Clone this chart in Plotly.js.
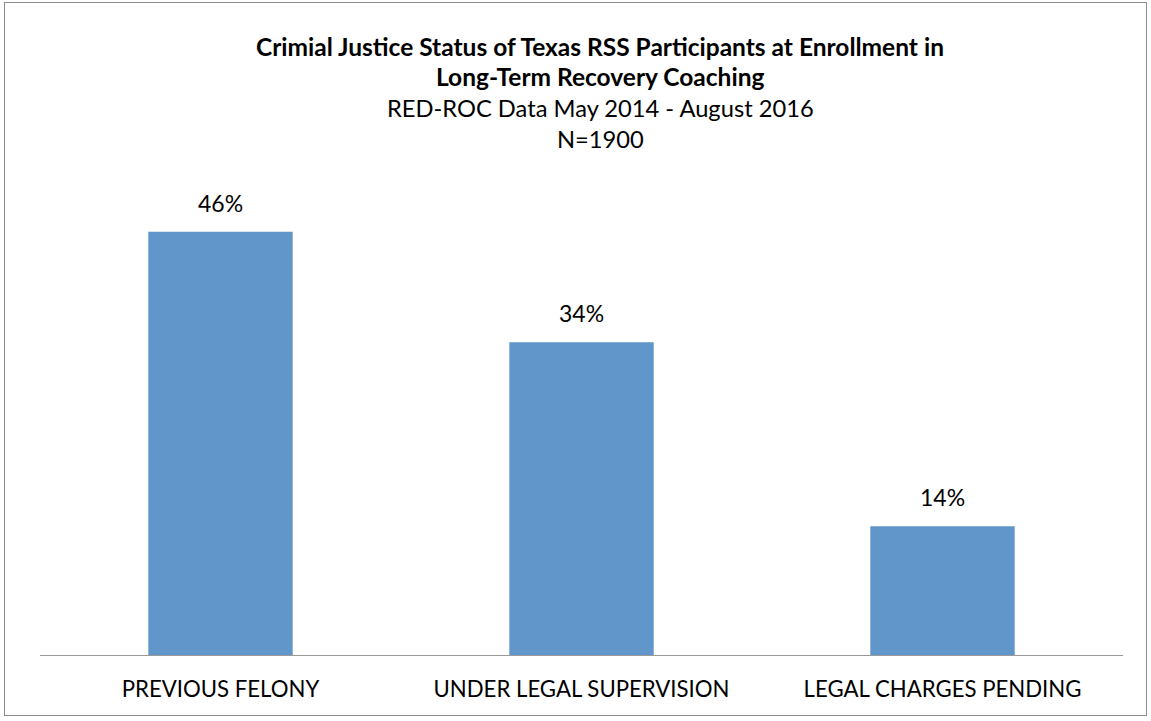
<!DOCTYPE html>
<html><head><meta charset="utf-8">
<script src="https://cdn.plot.ly/plotly-3.0.1.min.js"></script>
<style>
html,body{margin:0;padding:0;background:#fff;}
#frame{position:absolute;left:4px;top:2px;width:1143px;height:714px;border:1px solid #8c8c8c;box-sizing:border-box;}
#chart{position:absolute;left:0;top:0;width:1151px;height:721px;}
</style></head>
<body>
<div id="frame"></div>
<div id="chart"></div>
<script>
const categories = ["PREVIOUS FELONY", "UNDER LEGAL SUPERVISION", "LEGAL CHARGES PENDING"];
const values = [46, 34, 14];
const labels = ["46%", "34%", "14%"];
const titleLines = ["<b>Crimial Justice Status of Texas RSS Participants at Enrollment in</b>", "<b>Long-Term Recovery Coaching</b>", "RED-ROC Data May 2014 - August 2016", "N=1900"];

const FONT = "Lato, 'Open Sans', sans-serif";
const plotLeft = 40, plotRight = 1123;
const plotTop = 195, plotBottom = 655, H = plotBottom - plotTop;
const lineY = [46, 76, 108, 139];
const titleSizes = [24.5, 24.5, 23.7, 23.7];
const titleCenterX = (600 - plotLeft) / (plotRight - plotLeft);
const annotations = titleLines.map((t, i) => ({
  text: t, xref: 'paper', yref: 'paper', x: titleCenterX, y: (plotBottom - lineY[i]) / H,
  xanchor: 'center', yanchor: 'middle', showarrow: false,
  font: {family: FONT, size: titleSizes[i], color: '#000'}
}));
categories.forEach((c, i) => annotations.push({
  text: labels[i], xref: 'x', yref: 'y', x: c, y: values[i],
  xanchor: 'center', yanchor: 'bottom', yshift: 13, showarrow: false,
  font: {family: FONT, size: 23, color: '#000'}
}));

const trace = {
  type: 'bar', x: categories, y: values,
  marker: {color: '#6096c9'}, hoverinfo: 'none'
};

const layout = {
  width: 1151, height: 721,
  margin: {l: plotLeft, r: 1151 - plotRight, t: plotTop, b: 721 - plotBottom},
  paper_bgcolor: 'rgba(0,0,0,0)', plot_bgcolor: 'rgba(0,0,0,0)',
  bargap: 0.6, showlegend: false,
  xaxis: {showline: true, linecolor: '#999999', linewidth: 1, ticks: '', showgrid: false,
          ticklabelstandoff: 14,
          tickfont: {family: FONT, size: 22.2, color: '#000'}, fixedrange: true},
  yaxis: {range: [0, 50], visible: false, showgrid: false, zeroline: false, fixedrange: true},
  annotations: annotations
};
Plotly.newPlot('chart', [trace], layout, {displayModeBar: false, staticPlot: true});
</script>
</body></html>
